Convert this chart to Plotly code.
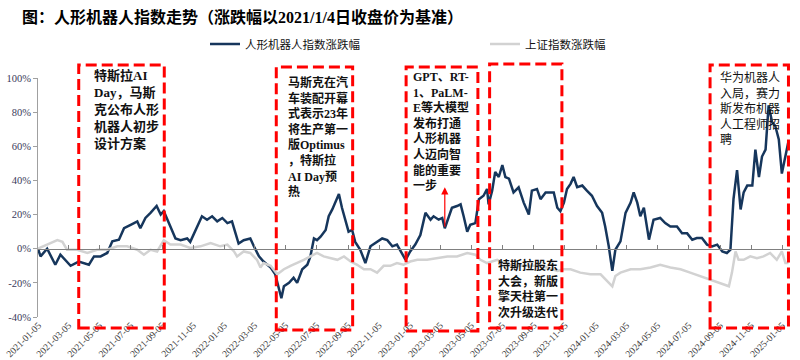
import plotly.graph_objects as go

# ---------------- data ----------------
robot_dates = [
    "2021-01-04","2021-01-09","2021-01-22","2021-02-07","2021-02-17","2021-02-27","2021-03-09","2021-03-25",
    "2021-04-14","2021-04-24","2021-05-07","2021-05-20","2021-05-30","2021-06-12","2021-06-22","2021-07-05",
    "2021-07-18","2021-07-24","2021-08-03","2021-08-13","2021-08-25","2021-09-02","2021-09-08","2021-09-21",
    "2021-10-01","2021-10-11","2021-10-24","2021-10-30","2021-11-09","2021-11-22","2021-12-02","2021-12-12",
    "2021-12-22","2022-01-01","2022-01-11","2022-01-20","2022-01-27","2022-02-02","2022-02-12","2022-02-25",
    "2022-03-04","2022-03-14","2022-03-23","2022-04-06","2022-04-15","2022-04-22","2022-04-27","2022-05-02",
    "2022-05-12","2022-05-21","2022-05-28","2022-06-07","2022-06-17","2022-06-23","2022-06-30","2022-07-06",
    "2022-07-13","2022-07-23","2022-07-29","2022-08-05","2022-08-11","2022-08-18","2022-08-24","2022-08-31",
    "2022-09-06","2022-09-13","2022-09-19","2022-09-29","2022-10-09","2022-10-19","2022-11-01","2022-11-11",
    "2022-11-21","2022-12-01","2022-12-10","2022-12-20","2022-12-27","2023-01-05","2023-01-15","2023-01-25",
    "2023-02-04","2023-02-14","2023-02-20","2023-03-02","2023-03-09","2023-03-14","2023-03-22","2023-03-28",
    "2023-04-07","2023-04-14","2023-04-20","2023-04-27","2023-05-03","2023-05-13","2023-05-20","2023-05-29",
    "2023-06-05","2023-06-08","2023-06-15","2023-06-21","2023-06-28","2023-07-05","2023-07-11","2023-07-18",
    "2023-07-27","2023-08-06","2023-08-16","2023-08-26","2023-09-01","2023-09-11","2023-09-18","2023-09-28",
    "2023-10-07","2023-10-14","2023-10-21","2023-10-27","2023-11-03","2023-11-09","2023-11-16","2023-11-22",
    "2023-11-29","2023-12-09","2023-12-18","2023-12-28","2024-01-07","2024-01-17","2024-01-23","2024-01-30",
    "2024-02-06","2024-02-12","2024-02-22","2024-03-03","2024-03-13","2024-03-19","2024-03-26","2024-04-01",
    "2024-04-08","2024-04-18","2024-04-27","2024-05-10","2024-05-20","2024-05-30","2024-06-12","2024-06-22",
    "2024-07-02","2024-07-12","2024-07-21","2024-07-31","2024-08-10","2024-08-20","2024-08-30","2024-09-09",
    "2024-09-18","2024-09-25","2024-10-01","2024-10-08","2024-10-15","2024-10-21","2024-10-28","2024-11-07",
    "2024-11-13","2024-11-20","2024-11-26","2024-12-03","2024-12-09","2024-12-16","2024-12-22","2024-12-29",
    "2025-01-04","2025-01-11","2025-01-17",
]
robot_pct = [
    0, -4.5, 0, -9.4, -3.5, -6.5, -10, -7.5,
    -9.4, -4.5, -4.5, -2.5, 4.3, 5.3, 12, 14,
    16, 12, 18, 21, 25, 20, 22, 13,
    6, 5, 6, 4, 11, 19, 17, 19,
    16, 18, 15, 16, 9, 3, 5, 6,
    1.4, -4.5, -7.5, -11, -15, -24, -29, -22,
    -20, -17, -20, -12, -9.4, -4.5, 6, 5,
    7, 11, 19, 23, 27, 32, 24, 16,
    10, 11, 4, -0.6, -8.4, 1.4, 4, 6,
    5, 1.4, 2.4, -2.5, -6.5, -1.6, 2.4, 8,
    21, 17, 19, 17, 18, 12, 19, 24,
    25, 26, 19, 10, 14, 15, 29, 31,
    35, 26, 34, 45, 42, 49, 42, 41,
    33, 36, 27, 20, 34, 35, 29, 33,
    33, 33, 24, 22, 27, 35, 38, 42,
    36, 37, 34, 31, 25, 21, 13, 1.4,
    -13, -0.6, 4.3, 21, 27, 33, 27, 19,
    24, 5.3, 17, 18, 15, 13, 13, 9,
    9, 5.3, 6.3, 6.3, 2.4, 1.4, 2.4, -1.6,
    -2.5, -0.6, 29, 46, 23, 33, 37, 37,
    58, 42, 54, 58, 84, 74, 72, 64,
    44, 55, 63,
]

sh_dates = [
    "2021-01-04","2021-01-22","2021-02-11","2021-02-21","2021-03-02","2021-03-22","2021-04-11","2021-04-30",
    "2021-05-20","2021-06-09","2021-06-28","2021-07-18","2021-07-31","2021-08-13","2021-08-26","2021-09-08",
    "2021-09-21","2021-10-11","2021-10-30","2021-11-19","2021-12-09","2021-12-28","2022-01-11","2022-01-24",
    "2022-01-30","2022-02-12","2022-02-25","2022-03-10","2022-03-17","2022-03-23","2022-04-06","2022-04-19",
    "2022-05-02","2022-05-15","2022-05-28","2022-06-10","2022-06-23","2022-07-06","2022-07-19","2022-08-01",
    "2022-08-15","2022-08-28","2022-09-10","2022-09-23","2022-10-06","2022-10-19","2022-11-01","2022-11-14",
    "2022-11-27","2022-12-10","2022-12-23","2023-01-05","2023-01-19","2023-02-07","2023-02-27","2023-03-19",
    "2023-04-07","2023-04-27","2023-05-13","2023-05-23","2023-06-05","2023-06-25","2023-07-14","2023-08-03",
    "2023-08-23","2023-09-11","2023-10-01","2023-10-21","2023-11-03","2023-11-16","2023-12-05","2023-12-25",
    "2024-01-14","2024-01-27","2024-02-06","2024-02-12","2024-02-22","2024-03-13","2024-04-01","2024-04-21",
    "2024-05-10","2024-05-30","2024-06-19","2024-07-08","2024-07-28","2024-08-17","2024-09-05","2024-09-22",
    "2024-09-28","2024-10-05","2024-10-11","2024-10-21","2024-11-03","2024-11-16","2024-11-29","2024-12-12",
    "2024-12-25","2025-01-04","2025-01-11","2025-01-17",
]
sh_pct = [
    0, 2.4, 5, 4, -0.6, -0.6, -2.5, -0.6,
    -0.6, 1.4, 1.4, -0.6, -3.5, -0.6, -1.6, 5,
    2.4, 2.4, 0.4, 1.4, 3.3, 1.4, 2.4, -1.6,
    -4.5, -1.6, -2.5, -6.5, -11, -8.4, -10, -15,
    -12, -10, -8.4, -6.5, -4.5, -2.5, -4.5, -5.5,
    -6.5, -4.5, -7.5, -9.4, -12, -12, -14, -10,
    -10, -8.4, -9.4, -7.5, -6.5, -6.5, -5.5, -4.5,
    -4.5, -2.5, -3.5, -6.5, -8.4, -6.5, -9.4, -10,
    -10, -10, -11, -13, -12, -12, -14, -15,
    -15, -19, -22, -16, -14, -12, -12, -11,
    -9.4, -11, -12, -14, -16, -18, -20, -22,
    -14, -1.6, -6.5, -6.5, -4.5, -5.5, -4.5, -2.5,
    -6.5, -1.6, -8.4, -8.4,
]

tick_dates = [
    "2021-01-05","2021-03-05","2021-05-05","2021-07-05","2021-09-05","2021-11-05",
    "2022-01-05","2022-03-05","2022-05-05","2022-07-05","2022-09-05","2022-11-05",
    "2023-01-05","2023-03-05","2023-05-05","2023-07-05","2023-09-05","2023-11-05",
    "2024-01-05","2024-03-05","2024-05-05","2024-07-05","2024-09-05","2024-11-05",
    "2025-01-05",
]
y_ticks = [-40, -20, 0, 20, 40, 60, 80, 100]
y_labels = ["-40%", "-20%", "0%", "20%", "40%", "60%", "80%", "100%"]

# highlighted event windows (start, end) and their notes
event_windows = [
    ("2021-03-25", "2021-09-09"),
    ("2022-04-17", "2022-09-14"),
    ("2022-12-28", "2023-05-18"),
    ("2023-06-10", "2023-10-30"),
    ("2024-08-16", "2025-01-17"),
]
event_notes = [
    "特斯拉AI<br>Day，马斯<br>克公布人形<br>机器人初步<br>设计方案",
    "马斯克在汽<br>车装配开幕<br>式表示23年<br>将生产第一<br>版Optimus<br>，特斯拉<br>AI Day预<br>热",
    "GPT、RT-<br>1、PaLM-<br>E等大模型<br>发布打通<br>人形机器<br>人迈向智<br>能的重要<br>一步",
    "特斯拉股东<br>大会，新版<br>擎天柱第一<br>次升级迭代",
    "华为机器人<br>入局，赛力<br>斯发布机器<br>人工程师招<br>聘",
]
arrow_date = "2023-03-14"
arrow_from, arrow_to = 12, 36

title = "图：人形机器人指数走势（涨跌幅以2021/1/4日收盘价为基准）"
name_robot = "人形机器人指数涨跌幅"
name_sh = "上证指数涨跌幅"

# ---------------- figure ----------------
NAVY = "#16365c"
GRAY = "#d2d2d2"
CJK = "Liberation Serif, Noto Sans CJK SC"

fig = go.Figure()
fig.add_trace(go.Scatter(x=sh_dates, y=sh_pct, mode="lines", name=name_sh,
                         line=dict(color=GRAY, width=2.5), xaxis="x2", legendrank=2))
fig.add_trace(go.Scatter(x=robot_dates, y=robot_pct, mode="lines", name=name_robot,
                         line=dict(color=NAVY, width=2.5), legendrank=1))

# event boxes
box_y = [(-0.046, 1.054), (-0.054, 1.046), (-0.059, 1.046), (-0.046, 1.059), (-0.046, 1.054)]
for (x0, x1), (y0, y1) in zip(event_windows, box_y):
    fig.add_shape(type="rect", xref="x", yref="paper", x0=x0, x1=x1, y0=y0, y1=y1,
                  line=dict(color="#ff0000", width=3, dash="11px,5px"), layer="above")

note_pos = [(0.0718, 1.050, 13, "bold"), (0.3298, 1.020, 12, "bold"), (0.496, 1.040, 12, "bold"),
            (0.609, 0.255, 12, "bold"), (0.904, 1.036, 12, "normal")]
for txt, (px, py, fs, wt) in zip(event_notes, note_pos):
    fig.add_annotation(text=txt, xref="paper", yref="paper", x=px, y=py,
                       xanchor="left", yanchor="top", align="left", showarrow=False,
                       font=dict(family=CJK, size=fs, color="#111111", weight=wt))

fig.add_annotation(x=arrow_date, y=arrow_to, ax=arrow_date, ay=arrow_from,
                   xref="x", yref="y", axref="x", ayref="y", text="",
                   showarrow=True, arrowhead=2, arrowsize=1.2, arrowwidth=1.2,
                   arrowcolor="#ff0000")

fig.update_layout(
    width=800, height=360,
    margin=dict(l=38, r=10, t=78, b=43),
    paper_bgcolor="white", plot_bgcolor="white",
    title=dict(text="<b>" + title + "</b>", x=22/800, xanchor="left", xref="container",
               y=1 - 17/360, yanchor="middle", yref="container", pad=dict(l=0, r=0, t=0, b=0),
               font=dict(family="Liberation Serif, Noto Sans CJK SC", size=16, color="#000000")),
    showlegend=True,
    legend=dict(orientation="h", xref="container", yref="container",
                x=205/800, xanchor="left", y=1 - 44/360, yanchor="middle",
                font=dict(family=CJK, size=11.5, color="#111111"),
                entrywidth=235, entrywidthmode="pixels", bgcolor="rgba(0,0,0,0)",
                traceorder="normal"),
    xaxis=dict(type="date", range=["2021-01-04", "2025-01-20"], automargin=False,
               tickvals=tick_dates, ticktext=tick_dates, tickangle=-45,
               showline=False, showgrid=False, zeroline=False, ticks="",
               tickfont=dict(family="Liberation Serif", size=9.6, color="#404040")),
    xaxis2=dict(type="date", overlaying="x", matches="x", anchor="free", position=40/140,
                showline=True, linecolor="#808080", linewidth=1, automargin=False,
                tickvals=tick_dates, ticks="inside", ticklen=4, tickcolor="#808080",
                showticklabels=False, showgrid=False, zeroline=False),
    yaxis=dict(range=[-40, 100], tickvals=y_ticks, ticktext=y_labels, automargin=False,
               showline=True, linecolor="#a0a0a0", linewidth=1, ticks="outside",
               ticklen=4, tickcolor="#a0a0a0", showgrid=False, zeroline=False,
               tickfont=dict(family="Liberation Serif", size=10.5, color="#3a3a5a")),
)

fig.write_html("out.html", config={"displayModeBar": False},
               post_script="document.body.style.margin='0px';")
